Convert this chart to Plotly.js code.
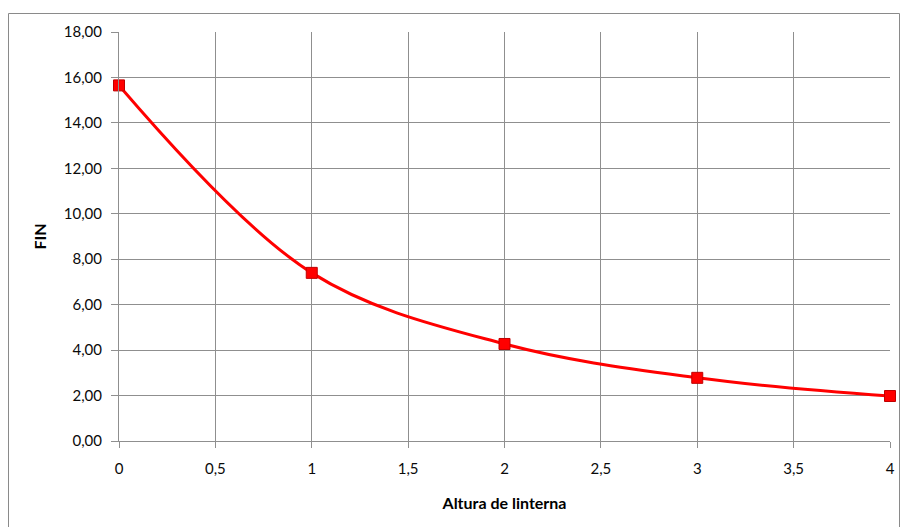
<!DOCTYPE html>
<html>
<head>
<meta charset="utf-8">
<script src="https://cdn.plot.ly/plotly-3.0.1.min.js"></script>
<style>
  html, body { margin: 0; padding: 0; background: #ffffff; }
  #chart { width: 900px; height: 527px; }
</style>
</head>
<body>
<div id="chart"></div>
<script>
// Lantern height vs FIN
const alturas = [0, 1, 2, 3, 4];
const fin = [15.65, 7.4, 4.27, 2.78, 1.98];
const xTicks = [0, 0.5, 1, 1.5, 2, 2.5, 3, 3.5, 4];
const yTicks = [0, 2, 4, 6, 8, 10, 12, 14, 16, 18];

const font = 'Lato, "Open Sans", "DejaVu Sans", sans-serif';
const gridColor = '#8f8f8f';
const textColor = '#0a0a0a';

const ml = 119, mr = 10, mt = 32, mb = 86;
const pw = 900 - ml - mr, ph = 527 - mt - mb;
const px = v => (v - ml) / pw;
const py = v => (527 - mb - v) / ph;

const trace = {
  x: alturas,
  y: fin,
  type: 'scatter',
  mode: 'lines+markers',
  line: { color: '#ff0000', width: 3, shape: 'spline', smoothing: 1 },
  marker: { symbol: 'square', size: 11, color: '#ff0000', line: { color: '#c00000', width: 1 } },
  cliponaxis: false,
  hoverinfo: 'x+y'
};

const layout = {
  width: 900,
  height: 527,
  margin: { l: ml, r: mr, t: mt, b: mb },
  paper_bgcolor: '#ffffff',
  plot_bgcolor: '#ffffff',
  separators: ', ',
  showlegend: false,
  font: { family: font, size: 15, color: textColor },
  xaxis: {
    range: [0, 4],
    tickvals: xTicks,
    ticks: 'outside',
    ticklen: 6,
    tickcolor: gridColor,
    ticklabelstandoff: 8,
    showgrid: true,
    gridcolor: gridColor,
    gridwidth: 1,
    showline: true,
    linecolor: gridColor,
    zeroline: false,
    tickfont: { family: font, size: 15, color: textColor },
    title: { text: 'Altura de linterna', font: { family: font, size: 16, color: '#000000', weight: 'bold' }, standoff: 21 }
  },
  yaxis: {
    range: [0, 18],
    tickvals: yTicks,
    tickformat: '.2f',
    ticks: 'outside',
    ticklen: 7,
    tickcolor: gridColor,
    ticklabelstandoff: 6,
    showgrid: true,
    gridcolor: gridColor,
    gridwidth: 1,
    showline: true,
    linecolor: gridColor,
    zeroline: false,
    tickfont: { family: font, size: 15, color: textColor },
    title: { text: 'FIN', font: { family: font, size: 16, color: '#000000', weight: 'bold' }, standoff: 13 }
  },
  shapes: [{
    type: 'rect',
    xref: 'paper', yref: 'paper',
    x0: px(8.5), x1: px(899.5), y0: py(540), y1: py(13.5),
    line: { color: '#8a8a8a', width: 1 },
    fillcolor: 'rgba(0,0,0,0)',
    layer: 'below'
  }]
};

Plotly.newPlot('chart', [trace], layout, { displayModeBar: false, staticPlot: true });
</script>
</body>
</html>
